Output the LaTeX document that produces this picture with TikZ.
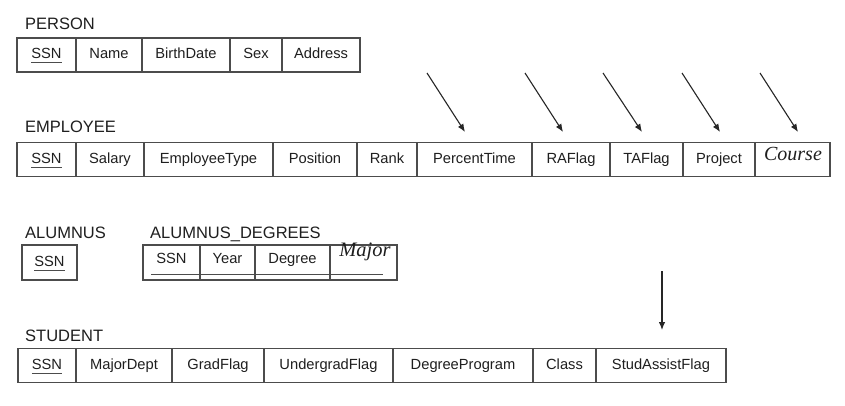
\documentclass[tikz,border=0pt]{standalone}
\usepackage{fontspec}
\setmainfont{Liberation Sans}
\newfontfamily\serifit{Liberation Serif}
\usetikzlibrary{arrows.meta}
\definecolor{linec}{gray}{0.3}
\definecolor{txtc}{gray}{0.12}
\newcommand\keyattr[1]{\setbox0\hbox{#1}\rlap{\color{linec}\rule[-4.5pt]{\wd0}{1.2pt}}\box0}
\begin{document}
\begin{tikzpicture}[x=1pt,y=-1pt,
  cell/.style={draw=linec, line width=1.2pt, minimum height=34pt, inner sep=0pt,
    text height=10.5pt, text depth=3pt, font=\fontsize{14.7}{17}\selectfont, text=txtc},
  tlabel/.style={anchor=west, inner sep=0pt, text height=12pt, text depth=0pt,
    font=\fontsize{16.5}{19}\selectfont, text=txtc},
  itxt/.style={inner sep=0pt, text=txtc},
  arr/.style={-{Latex[length=8pt,width=6.5pt]}, line width=1.1pt, draw=black!85},
  keyline/.style={draw=linec, line width=1.2pt}]
\useasboundingbox (0,0) rectangle (845,406);
\fill[white] (0,0) rectangle (845,406);

% PERSON
\node[tlabel] (lperson) at (25,24) {PERSON};
\node[cell, minimum width=59pt] (p1) at (46.5,55) {\keyattr{SSN}};
\node[cell, minimum width=66pt] (p2) at (109,55) {Name};
\node[cell, minimum width=88pt] (p3) at (186,55) {BirthDate};
\node[cell, minimum width=52pt] (p4) at (256,55) {Sex};
\node[cell, minimum width=78pt] (p5) at (321,55) {Address};

% EMPLOYEE
\node[tlabel] (lemp) at (25,127) {EMPLOYEE};
\node[cell, minimum width=59pt]  (e1) at (46.5,159.5) {\keyattr{SSN}};
\node[cell, minimum width=68pt]  (e2) at (110,159.5) {Salary};
\node[cell, minimum width=129pt] (e3) at (208.5,159.5) {EmployeeType};
\node[cell, minimum width=84pt]  (e4) at (315,159.5) {Position};
\node[cell, minimum width=60pt]  (e5) at (387,159.5) {Rank};
\node[cell, minimum width=115pt] (e6) at (474.5,159.5) {PercentTime};
\node[cell, minimum width=78pt]  (e7) at (571,159.5) {RAFlag};
\node[cell, minimum width=73pt]  (e8) at (646.5,159.5) {TAFlag};
\node[cell, minimum width=72pt]  (e9) at (719,159.5) {Project};
\node[cell, minimum width=75pt]  (e10) at (792.5,159.5) {};
\node[itxt, font=\serifit\itshape\fontsize{20}{22}\selectfont] (course) at (793,154) {Course};

% arrows into EMPLOYEE
\coordinate (a1s) at (427,73);  \coordinate (a1e) at (465,132);
\coordinate (a2s) at (525,73);  \coordinate (a2e) at (563,132);
\coordinate (a3s) at (603,73);  \coordinate (a3e) at (642,132);
\coordinate (a4s) at (682,73);  \coordinate (a4e) at (720,132);
\coordinate (a5s) at (760,73);  \coordinate (a5e) at (798,132);
\draw[arr] (a1s) -- (a1e);
\draw[arr] (a2s) -- (a2e);
\draw[arr] (a3s) -- (a3e);
\draw[arr] (a4s) -- (a4e);
\draw[arr] (a5s) -- (a5e);

% ALUMNUS
\node[tlabel] (lalum) at (25,232) {ALUMNUS};
\node[cell, minimum width=55pt, minimum height=35pt] (al1) at (49.5,262.5) {\keyattr{SSN}};

% ALUMNUS_DEGREES
\node[tlabel] (lad) at (150,232) {ALUMNUS\_DEGREES};
\node[cell, minimum width=57pt, minimum height=35pt] (ad1) at (171.5,262.5) {};
\node[cell, minimum width=55pt, minimum height=35pt] (ad2) at (227.5,262.5) {};
\node[cell, minimum width=75pt, minimum height=35pt] (ad3) at (292.5,262.5) {};
\node[cell, minimum width=67pt, minimum height=35pt] (ad4) at (363.5,262.5) {};
\node[itxt, font=\fontsize{14.7}{17}\selectfont, text height=10.5pt, text depth=3pt] (adt1) at (171.5,260) {SSN};
\node[itxt, font=\fontsize{14.7}{17}\selectfont, text height=10.5pt, text depth=3pt] (adt2) at (227.5,260) {Year};
\node[itxt, font=\fontsize{14.7}{17}\selectfont, text height=10.5pt, text depth=3pt] (adt3) at (292.5,260) {Degree};
\node[itxt, font=\serifit\itshape\fontsize{20.5}{22}\selectfont] (major) at (365,252) {Major};
\draw[keyline] ([xshift=9pt,yshift=6pt]ad1.south west) -- ([xshift=-15pt,yshift=6pt]ad4.south east);

% STUDENT
\node[tlabel] (lstud) at (25,335) {STUDENT};
\node[cell, minimum width=58pt]  (s1) at (47,365.5) {\keyattr{SSN}};
\node[cell, minimum width=96pt]  (s2) at (124,365.5) {MajorDept};
\node[cell, minimum width=92pt]  (s3) at (218,365.5) {GradFlag};
\node[cell, minimum width=129pt] (s4) at (328.5,365.5) {UndergradFlag};
\node[cell, minimum width=140pt] (s5) at (463,365.5) {DegreeProgram};
\node[cell, minimum width=63pt]  (s6) at (564.5,365.5) {Class};
\node[cell, minimum width=130pt] (s7) at (661,365.5) {StudAssistFlag};

\coordinate (a6s) at (662,271);
\coordinate (a6e) at (662,330);
\draw[arr] (a6s) -- (a6e);
\end{tikzpicture}
\end{document}
